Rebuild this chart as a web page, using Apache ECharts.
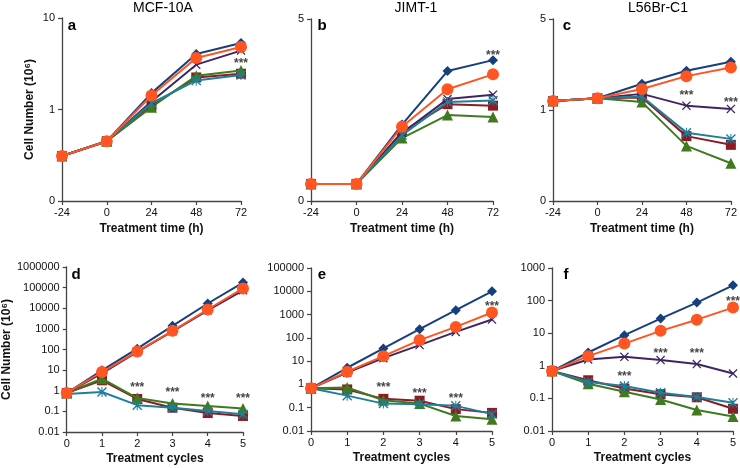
<!DOCTYPE html>
<html><head><meta charset="utf-8">
<script src="https://cdn.jsdelivr.net/npm/echarts@6/dist/echarts.min.js"></script>
<style>html,body{margin:0;padding:0;background:#fff}#c{width:740px;height:468px}</style>
</head><body><div id="c"></div>
<script>
// ---- categories / x values ----
const timeX = [-24, 0, 24, 48, 72];
const cycleX = [0, 1, 2, 3, 4, 5];
const panelTitles = ['MCF-10A', 'JIMT-1', 'L56Br-C1'];
const panelLetters = ['a', 'b', 'c', 'd', 'e', 'f'];
const seriesNames = ['Series 1', 'Series 2', 'Series 3', 'Series 4', 'Series 5', 'Series 6'];

// ---- panel a (MCF-10A, time) ----
const aBlue   = [0.31, 0.45, 1.51, 4.04, 5.33];
const aRed    = [0.31, 0.45, 1.10, 2.24, 2.46];
const aGreen  = [0.31, 0.45, 1.06, 2.34, 2.67];
const aPurple = [0.31, 0.45, 1.22, 3.09, 4.40];
const aTeal   = [0.31, 0.45, 1.17, 2.08, 2.38];
const aOrange = [0.31, 0.45, 1.42, 3.66, 4.82];
// ---- panel b (JIMT-1, time) ----
const bBlue   = [0.47, 0.47, 2.10, 3.57, 3.87];
const bRed    = [0.47, 0.47, 1.90, 2.66, 2.62];
const bGreen  = [0.47, 0.47, 1.73, 2.36, 2.31];
const bPurple = [0.47, 0.47, 1.87, 2.80, 2.92];
const bTeal   = [0.47, 0.47, 1.81, 2.72, 2.76];
const bOrange = [0.47, 0.47, 2.04, 3.07, 3.48];
// ---- panel c (L56Br-C1, time) ----
const cBlue   = [1.17, 1.23, 1.59, 2.00, 2.35];
const cRed    = [1.17, 1.23, 1.25, 0.63, 0.54];
const cGreen  = [1.17, 1.23, 1.15, 0.53, 0.39];
const cPurple = [1.17, 1.23, 1.33, 1.08, 1.02];
const cTeal   = [1.17, 1.23, 1.27, 0.67, 0.60];
const cOrange = [1.17, 1.23, 1.45, 1.82, 2.12];
// ---- panel d (MCF-10A, cycles) ----
const dBlue   = [0.78, 9.8, 110, 1400, 17000, 175000];
const dRed    = [0.78, 3.2, 0.40, 0.15, 0.083, 0.060];
const dGreen  = [0.78, 3.85, 0.44, 0.24, 0.18, 0.137];
const dPurple = [0.78, 7.0, 76, 760, 7900, 74000];
const dTeal   = [0.70, 0.87, 0.20, 0.15, 0.105, 0.072];
const dOrange = [0.78, 8.1, 81, 800, 8700, 91000];
// ---- panel e (JIMT-1, cycles) ----
const eBlue   = [0.68, 5.2, 35, 235, 1540, 10000];
const eRed    = [0.68, 0.61, 0.24, 0.20, 0.087, 0.060];
const eGreen  = [0.68, 0.74, 0.21, 0.15, 0.044, 0.032];
const ePurple = [0.68, 3.2, 13.4, 49, 180, 610];
const eTeal   = [0.68, 0.33, 0.15, 0.14, 0.12, 0.053];
const eOrange = [0.68, 3.5, 16.4, 80, 296, 1230];
// ---- panel f (L56Br-C1, cycles) ----
const fBlue   = [0.69, 2.56, 8.7, 28, 87, 295];
const fRed    = [0.69, 0.36, 0.20, 0.135, 0.108, 0.048];
const fGreen  = [0.69, 0.28, 0.16, 0.093, 0.044, 0.028];
const fPurple = [0.69, 1.56, 1.88, 1.5, 1.13, 0.58];
const fTeal   = [0.69, 0.32, 0.24, 0.15, 0.11, 0.074];
const fOrange = [0.69, 1.98, 4.8, 11.8, 26, 61];

// ---- significance marks (x, y) ----
const starsA = [[72, 3.41]];
const starsB = [[72, 4.08]];
const starsC = [[48, 1.35], [72, 1.21]];
const starsD = [[2, 2.07], [3, 1.14], [4, 0.56], [5, 0.56]];
const starsE = [[2, 1.0], [3, 0.54], [4, 0.32], [5, 2950]];
const starsF = [[2, 0.59], [3, 3.0], [4, 3.0], [5, 115]];

const FONT = 'Liberation Sans, Arial, DejaVu Sans, sans-serif';
const colors = ['#163f7e', '#8e1b24', '#3f7a1f', '#402561', '#1d7f99', '#ff5522'];
const crossPath = 'path://M2,0 L10,8 L18,0 L20,2 L12,10 L20,18 L18,20 L10,12 L2,20 L0,18 L8,10 L0,2 Z';
const starPath = 'path://M2,0 L10,8 L18,0 L20,2 L12,10 L20,18 L18,20 L10,12 L2,20 L0,18 L8,10 L0,2 Z M9,0 L11,0 L11,20 L9,20 Z';
const symbols = ['diamond', 'rect', 'triangle', crossPath, starPath, 'circle'];
const symSizes = [10, 10, 11, 9, 10, 12];

const panels = [
  {x: timeX, s: [aBlue, aRed, aGreen, aPurple, aTeal, aOrange], stars: starsA},
  {x: timeX, s: [bBlue, bRed, bGreen, bPurple, bTeal, bOrange], stars: starsB},
  {x: timeX, s: [cBlue, cRed, cGreen, cPurple, cTeal, cOrange], stars: starsC},
  {x: cycleX, s: [dBlue, dRed, dGreen, dPurple, dTeal, dOrange], stars: starsD},
  {x: cycleX, s: [eBlue, eRed, eGreen, ePurple, eTeal, eOrange], stars: starsE},
  {x: cycleX, s: [fBlue, fRed, fGreen, fPurple, fTeal, fOrange], stars: starsF}
];

const grids = [
  {left: 62, top: 18, width: 179, height: 183},
  {left: 311, top: 19, width: 182, height: 182},
  {left: 553, top: 19, width: 179, height: 182},
  {left: 62, top: 267, width: 181, height: 165},
  {left: 311, top: 268, width: 181, height: 163},
  {left: 552, top: 268, width: 181, height: 163}
];

const axisLine = {show: true, onZero: false, lineStyle: {color: '#444', width: 1.3}};
const axisTick = {show: true, inside: false, length: 4, lineStyle: {color: '#444', width: 1.2}};
const labelStyle = {fontFamily: FONT, fontSize: 11, color: '#111'};
const nameStyle = {fontFamily: FONT, fontSize: 12, fontWeight: 'bold', color: '#111'};

function fmtLog(v) {
  return String(+Number(v).toPrecision(6));
}

const xAxes = [], yAxes = [];
for (let i = 0; i < 6; i++) {
  const top = i < 3;
  xAxes.push({
    gridIndex: i, type: 'value',
    min: top ? -24 : 0, max: top ? 72 : 5, interval: top ? 24 : 1,
    axisLine, axisTick, splitLine: {show: false},
    axisLabel: Object.assign({margin: 6}, labelStyle),
    name: top ? 'Treatment time (h)' : 'Treatment cycles',
    nameLocation: 'middle', nameGap: top ? 22 : 21, nameTextStyle: nameStyle
  });
}
yAxes.push({gridIndex: 0, type: 'log', logBase: 10, min: 0.1, max: 10,
  axisLabel: Object.assign({margin: 7, formatter: v => (v < 0.5 ? '0' : fmtLog(v))}, labelStyle)});
yAxes.push({gridIndex: 1, type: 'value', min: 0, max: 5, interval: 5,
  axisLabel: Object.assign({margin: 7}, labelStyle)});
yAxes.push({gridIndex: 2, type: 'log', logBase: 5, min: 0.2, max: 5,
  axisLabel: Object.assign({margin: 7, formatter: v => (v < 0.5 ? '0' : String(Math.round(v)))}, labelStyle)});
yAxes.push({gridIndex: 3, type: 'log', logBase: 10, min: 0.01, max: 1000000,
  axisLabel: Object.assign({margin: 7, formatter: fmtLog}, labelStyle)});
yAxes.push({gridIndex: 4, type: 'log', logBase: 10, min: 0.01, max: 100000,
  axisLabel: Object.assign({margin: 7, formatter: fmtLog}, labelStyle)});
yAxes.push({gridIndex: 5, type: 'log', logBase: 10, min: 0.01, max: 1000,
  axisLabel: Object.assign({margin: 7, formatter: fmtLog}, labelStyle)});
yAxes.forEach((y, i) => {
  y.axisLine = axisLine; y.axisTick = axisTick; y.splitLine = {show: false};
  y.minorTick = {show: false};
  if (i === 0 || i === 3) {
    y.name = 'Cell Number (10\u2076)';
    y.nameLocation = 'middle';
    y.nameRotate = 90;
    y.nameGap = i === 0 ? 26 : 47;
    y.nameTextStyle = nameStyle;
  }
});

const series = [];
panels.forEach((p, gi) => {
  p.s.forEach((vals, k) => {
    series.push({
      name: seriesNames[k], type: 'line', xAxisIndex: gi, yAxisIndex: gi,
      data: p.x.map((x, j) => [x, vals[j]]),
      symbol: symbols[k], symbolSize: symSizes[k], showAllSymbol: true,
      lineStyle: {color: colors[k], width: 2},
      itemStyle: {color: colors[k], borderWidth: 0},
      z: 2 + k, animation: false
    });
  });
  series.push({
    type: 'scatter', xAxisIndex: gi, yAxisIndex: gi,
    data: p.stars, symbolSize: 1, itemStyle: {color: 'rgba(0,0,0,0)'},
    label: {show: true, formatter: '***', position: 'inside', offset: [0, 3],
      fontFamily: FONT, fontSize: 12, fontWeight: 'bold', color: '#111'},
    z: 20, animation: false, silent: true
  });
});

const graphic = [];
const titleX = [163, 416, 658];
panelTitles.forEach((t, i) => graphic.push({type: 'text', x: titleX[i], y: 8,
  style: {text: t, fontFamily: FONT, fontSize: 14, fill: '#000', align: 'center', verticalAlign: 'middle', textAlign: 'center', textVerticalAlign: 'middle'}}));
const letterPos = [[72, 26], [322, 26], [567, 26], [76, 275], [322, 275], [566, 275]];
panelLetters.forEach((t, i) => graphic.push({type: 'text', x: letterPos[i][0], y: letterPos[i][1],
  style: {text: t, fontFamily: FONT, fontSize: 15, fontWeight: 'bold', fill: '#000', align: 'center', verticalAlign: 'middle', textAlign: 'center', textVerticalAlign: 'middle'}}));

const chart = echarts.init(document.getElementById('c'), null, {renderer: 'canvas'});
chart.setOption({
  animation: false,
  backgroundColor: '#fff',
  grid: grids,
  xAxis: xAxes,
  yAxis: yAxes,
  series,
  graphic
});
</script></body></html>
